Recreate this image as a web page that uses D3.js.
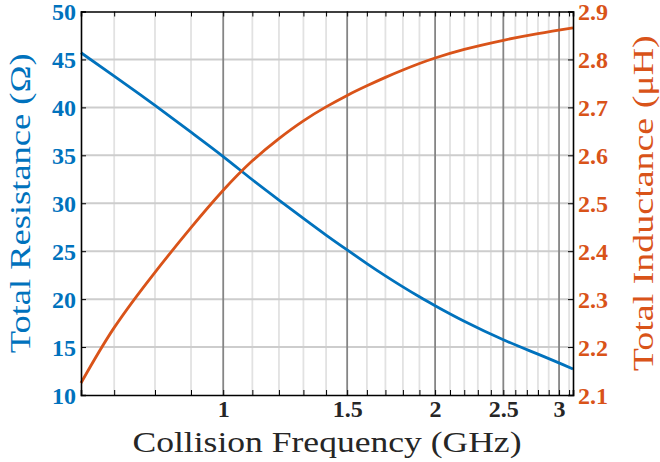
<!DOCTYPE html>
<html>
<head>
<meta charset="utf-8">
<script src="https://cdn.jsdelivr.net/npm/d3@7"></script>
<style>
  body { margin: 0; background: #fff; }
  svg { display: block; }
</style>
</head>
<body>
<div id="chart"></div>
<script>
// values
var freq = [0.628, 0.7, 0.8, 0.9, 1.0, 1.1, 1.2, 1.3, 1.4, 1.5, 1.6, 1.7, 1.8, 1.9, 2.0, 2.2, 2.5, 2.8, 3.14]
var resistance = [45.7, 43.27, 40.2, 37.41, 34.87, 32.45, 30.33, 28.42, 26.68, 25.13, 23.71, 22.43, 21.28, 20.24, 19.31, 17.69, 15.76, 14.26, 12.72]
var inductance = [2.125, 2.2405, 2.356, 2.449, 2.527, 2.5885, 2.635, 2.672, 2.701, 2.725, 2.745, 2.7626, 2.778, 2.7915, 2.803, 2.821, 2.840, 2.854, 2.866]

var xTicks = [1, 1.5, 2, 2.5, 3]
var xTickLabels = ["1", "1.5", "2", "2.5", "3"]
var rTicks = [10, 15, 20, 25, 30, 35, 40, 45, 50]
var lTicks = [2.1, 2.2, 2.3, 2.4, 2.5, 2.6, 2.7, 2.8, 2.9]

var BLUE = "#0072BD",
    ORANGE = "#D95319",
    DARK = "#262626"

function getMargin(){
  return {"top": 11.5, "bottom": 67, "left": 81, "right": 87}
}

function drawChart(){
  var w = 660, h = 462,
      margin = getMargin(),
      width = w - margin.left - margin.right,
      height = h - margin.top - margin.bottom

  var svg = d3.select("#chart").append("svg")
    .attr("width", w).attr("height", h)

  var g = svg.append("g")
    .attr("transform", "translate(" + margin.left + "," + margin.top + ")")

  var x = d3.scaleLog().domain([0.628, 3.14]).range([0, width])
  var yR = d3.scaleLinear().domain([10, 50]).range([height, 0])
  var yL = d3.scaleLinear().domain([2.1, 2.9]).range([height, 0])

  // minor x positions every 0.1
  var xMinor = d3.range(7, 32).map(function(d){ return d / 10 })
    .filter(function(d){ return xTicks.indexOf(d) == -1 })

  // grid
  g.selectAll("line.minor").data(xMinor).enter().append("line")
    .attr("class", "minor")
    .attr("x1", function(d){ return x(d) }).attr("x2", function(d){ return x(d) })
    .attr("y1", 0).attr("y2", height)
    .style("stroke", "#e2e2e2").style("stroke-width", 1.8)

  g.selectAll("line.hgrid").data(rTicks.slice(1, -1)).enter().append("line")
    .attr("class", "hgrid")
    .attr("x1", 0).attr("x2", width)
    .attr("y1", function(d){ return yR(d) }).attr("y2", function(d){ return yR(d) })
    .style("stroke", "#cdcdcd").style("stroke-width", 2)

  g.selectAll("line.major").data(xTicks).enter().append("line")
    .attr("class", "major")
    .attr("x1", function(d){ return x(d) }).attr("x2", function(d){ return x(d) })
    .attr("y1", 0).attr("y2", height)
    .style("stroke", "#858585").style("stroke-width", 1.8)

  // curves
  var lineR = d3.line()
    .x(function(d, i){ return x(freq[i]) })
    .y(function(d){ return yR(d) })
    .curve(d3.curveNatural)
  var lineL = d3.line()
    .x(function(d, i){ return x(freq[i]) })
    .y(function(d){ return yL(d) })
    .curve(d3.curveNatural)

  g.append("path").datum(resistance)
    .attr("d", lineR)
    .style("fill", "none").style("stroke", BLUE).style("stroke-width", 2.8)

  g.append("path").datum(inductance)
    .attr("d", lineL)
    .style("fill", "none").style("stroke", ORANGE).style("stroke-width", 2.8)

  // axes
  var axBottom = d3.axisBottom(x).tickValues(xTicks.concat(xMinor)).tickSize(-5)
    .tickFormat(function(d){ var i = xTicks.indexOf(d); return i == -1 ? "" : xTickLabels[i] })
    .tickPadding(5)
  var axTop = d3.axisTop(x).tickValues(xTicks.concat(xMinor)).tickSize(-5).tickFormat("")
  var axLeft = d3.axisLeft(yR).tickValues(rTicks).tickSize(-5).tickPadding(5).tickFormat(d3.format("d"))
  var axRight = d3.axisRight(yL).tickValues(lTicks).tickSize(-5).tickPadding(5).tickFormat(d3.format(".1f"))

  var gb = g.append("g").attr("transform", "translate(0," + height + ")").call(axBottom)
  var gt = g.append("g").call(axTop)
  var gl = g.append("g").call(axLeft)
  var gr = g.append("g").attr("transform", "translate(" + width + ",0)").call(axRight)

  ;[gb, gt, gl, gr].forEach(function(a){
    a.select(".domain").style("stroke", "#000").style("stroke-width", 1.6)
    a.selectAll(".tick line").style("stroke", "#000").style("stroke-width", 1)
    a.selectAll("text")
      .style("font-family", "'Liberation Serif', serif")
      .style("font-weight", "bold")
      .style("font-size", "24px")
  })
  gb.selectAll("text").style("fill", DARK)
  gl.selectAll("text").style("fill", BLUE).attr("dy", "0.34em")
  gr.selectAll("text").style("fill", ORANGE).attr("dy", "0.34em")

  // axis titles
  svg.append("text")
    .attr("x", margin.left + width / 2).attr("y", 452)
    .attr("text-anchor", "middle")
    .attr("textLength", 389).attr("lengthAdjust", "spacingAndGlyphs")
    .style("font-family", "'Liberation Serif', serif")
    .style("font-size", "30px").style("fill", DARK)
    .text("Collision Frequency (GHz)")

  svg.append("text")
    .attr("transform", "translate(30," + (margin.top + height / 2) + ") rotate(-90)")
    .attr("text-anchor", "middle")
    .attr("textLength", 300).attr("lengthAdjust", "spacingAndGlyphs")
    .style("font-family", "'Liberation Serif', serif")
    .style("font-size", "30px").style("fill", BLUE)
    .text("Total Resistance (\u03A9)")

  svg.append("text")
    .attr("transform", "translate(653," + (margin.top + height / 2) + ") rotate(-90)")
    .attr("text-anchor", "middle")
    .attr("textLength", 336).attr("lengthAdjust", "spacingAndGlyphs")
    .style("font-family", "'Liberation Serif', serif")
    .style("font-size", "30px").style("fill", ORANGE)
    .text("Total Inductance (\u03BCH)")
}

drawChart()
</script>
</body>
</html>
